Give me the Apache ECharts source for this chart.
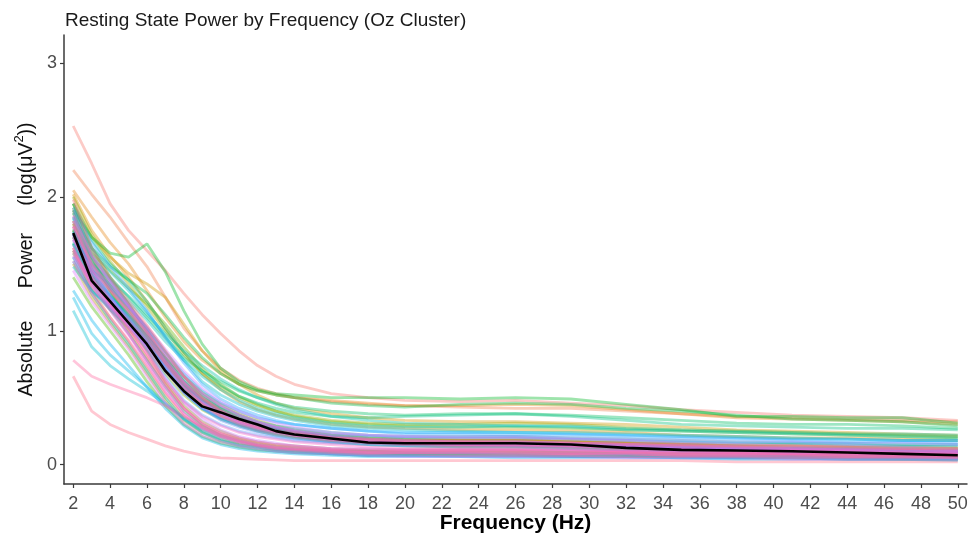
<!DOCTYPE html>
<html>
<head>
<meta charset="utf-8">
<script src="https://cdn.jsdelivr.net/npm/echarts@6/dist/echarts.min.js"></script>
<style>html,body{margin:0;padding:0;background:#fff}#c{width:971px;height:536px}</style>
</head>
<body>
<div id="c"></div>
<script>
// ---- data ----
const freqs = [2,3,4,5,6,7,8,9,10,11,12,13,14,16,18,20,23,26,29,32,35,38,41,44,47,50];
const meanPower = [1.73,1.375,1.22,1.06,0.90,0.70,0.55,0.435,0.39,0.34,0.30,0.25,0.225,0.195,0.165,0.16,0.16,0.16,0.15,0.125,0.11,0.105,0.10,0.09,0.08,0.07];
const xTicks = [2,4,6,8,10,12,14,16,18,20,22,24,26,28,30,32,34,36,38,40,42,44,46,48,50];
const yTicks = [0,1,2,3];
const subjectPower = [
  [2.53,2.25,1.95,1.75,1.60,1.45,1.28,1.12,0.98,0.85,0.74,0.66,0.60,0.53,0.50,0.48,0.47,0.48,0.46,0.44,0.41,0.39,0.37,0.36,0.35,0.33],
  [1.80,1.48,1.30,1.12,0.94,0.74,0.58,0.46,0.39,0.33,0.29,0.26,0.23,0.19,0.17,0.16,0.15,0.15,0.14,0.13,0.12,0.11,0.10,0.10,0.09,0.08],
  [2.20,2.02,1.85,1.66,1.48,1.25,1.02,0.85,0.72,0.63,0.57,0.53,0.50,0.47,0.45,0.44,0.43,0.42,0.42,0.40,0.38,0.36,0.35,0.34,0.33,0.32],
  [1.60,1.30,1.10,0.92,0.72,0.52,0.36,0.26,0.20,0.16,0.14,0.12,0.11,0.10,0.09,0.09,0.09,0.09,0.08,0.08,0.07,0.07,0.07,0.06,0.06,0.06],
  [2.05,1.85,1.66,1.50,1.30,1.10,0.92,0.78,0.68,0.60,0.55,0.52,0.50,0.48,0.46,0.44,0.44,0.45,0.44,0.41,0.38,0.35,0.34,0.33,0.32,0.30],
  [1.62,1.38,1.22,1.08,0.92,0.75,0.60,0.49,0.41,0.35,0.31,0.27,0.24,0.20,0.18,0.17,0.16,0.16,0.15,0.14,0.13,0.12,0.11,0.11,0.10,0.09],
  [2.02,1.75,1.56,1.40,1.22,1.02,0.84,0.68,0.56,0.47,0.41,0.37,0.34,0.30,0.28,0.27,0.26,0.26,0.25,0.24,0.22,0.21,0.20,0.20,0.19,0.18],
  [1.75,1.42,1.20,1.00,0.80,0.60,0.42,0.30,0.23,0.19,0.16,0.14,0.13,0.11,0.10,0.10,0.10,0.10,0.09,0.09,0.08,0.08,0.07,0.07,0.07,0.06],
  [1.95,1.70,1.55,1.43,1.35,1.25,1.05,0.85,0.70,0.60,0.52,0.46,0.42,0.38,0.35,0.33,0.32,0.32,0.31,0.30,0.28,0.26,0.25,0.24,0.23,0.22],
  [1.88,1.55,1.34,1.16,0.97,0.77,0.59,0.46,0.37,0.31,0.27,0.24,0.21,0.18,0.16,0.15,0.14,0.14,0.13,0.12,0.11,0.10,0.09,0.09,0.08,0.08],
  [1.78,1.50,1.32,1.16,0.98,0.78,0.60,0.48,0.40,0.34,0.30,0.27,0.25,0.22,0.20,0.19,0.19,0.19,0.18,0.17,0.16,0.15,0.15,0.14,0.14,0.13],
  [1.50,1.25,1.06,0.88,0.68,0.48,0.33,0.24,0.18,0.15,0.13,0.11,0.10,0.09,0.08,0.08,0.08,0.08,0.07,0.07,0.06,0.06,0.06,0.05,0.05,0.05],
  [1.92,1.58,1.38,1.20,1.00,0.78,0.58,0.45,0.37,0.32,0.28,0.25,0.23,0.20,0.19,0.18,0.18,0.18,0.17,0.16,0.15,0.14,0.14,0.13,0.13,0.12],
  [1.70,1.42,1.25,1.10,0.95,0.80,0.66,0.54,0.45,0.38,0.33,0.29,0.26,0.22,0.20,0.19,0.18,0.18,0.17,0.16,0.15,0.14,0.13,0.12,0.12,0.11],
  [2.00,1.72,1.52,1.35,1.18,1.00,0.82,0.68,0.58,0.50,0.44,0.40,0.37,0.33,0.31,0.30,0.30,0.31,0.30,0.28,0.26,0.25,0.24,0.23,0.22,0.21],
  [1.90,1.55,1.30,1.08,0.85,0.62,0.44,0.32,0.25,0.20,0.17,0.15,0.14,0.12,0.11,0.11,0.11,0.11,0.10,0.10,0.09,0.09,0.08,0.08,0.07,0.07],
  [1.58,1.32,1.16,1.02,0.86,0.68,0.52,0.41,0.34,0.29,0.25,0.22,0.20,0.17,0.15,0.14,0.13,0.13,0.12,0.11,0.10,0.09,0.09,0.08,0.08,0.07],
  [1.82,1.52,1.34,1.18,1.02,0.84,0.66,0.52,0.42,0.35,0.30,0.26,0.24,0.21,0.19,0.18,0.18,0.18,0.17,0.16,0.15,0.14,0.13,0.13,0.12,0.12],
  [1.80,1.58,1.45,1.32,1.20,1.05,0.88,0.72,0.60,0.51,0.45,0.40,0.36,0.32,0.30,0.29,0.28,0.28,0.27,0.26,0.25,0.24,0.23,0.22,0.21,0.20],
  [1.40,1.18,1.00,0.82,0.62,0.44,0.30,0.21,0.16,0.13,0.11,0.10,0.09,0.08,0.07,0.07,0.07,0.07,0.06,0.06,0.06,0.05,0.05,0.05,0.04,0.04],
  [1.95,1.62,1.40,1.20,1.00,0.80,0.62,0.49,0.40,0.34,0.29,0.26,0.23,0.19,0.17,0.16,0.15,0.15,0.14,0.13,0.12,0.11,0.10,0.10,0.09,0.09],
  [1.90,1.70,1.58,1.55,1.65,1.44,1.15,0.90,0.72,0.62,0.56,0.53,0.52,0.50,0.50,0.50,0.49,0.50,0.49,0.45,0.41,0.36,0.36,0.35,0.35,0.31],
  [1.85,1.62,1.48,1.38,1.28,1.12,0.95,0.80,0.68,0.60,0.55,0.52,0.50,0.46,0.44,0.43,0.45,0.46,0.45,0.42,0.40,0.37,0.34,0.33,0.32,0.29],
  [1.76,1.46,1.28,1.12,0.96,0.78,0.62,0.50,0.42,0.36,0.31,0.27,0.24,0.20,0.18,0.17,0.16,0.16,0.15,0.14,0.13,0.12,0.12,0.11,0.10,0.10],
  [1.75,1.55,1.40,1.25,1.10,0.95,0.80,0.70,0.62,0.55,0.50,0.46,0.43,0.40,0.38,0.37,0.38,0.38,0.37,0.35,0.33,0.31,0.30,0.30,0.29,0.27],
  [1.65,1.36,1.16,0.98,0.78,0.58,0.40,0.29,0.22,0.18,0.15,0.13,0.12,0.10,0.10,0.09,0.09,0.09,0.09,0.08,0.08,0.07,0.07,0.07,0.06,0.06],
  [1.95,1.68,1.50,1.38,1.22,1.02,0.84,0.70,0.59,0.51,0.46,0.42,0.39,0.36,0.35,0.36,0.37,0.38,0.36,0.33,0.30,0.29,0.28,0.27,0.27,0.26],
  [1.66,1.40,1.23,1.07,0.90,0.71,0.55,0.43,0.35,0.30,0.26,0.23,0.21,0.18,0.16,0.15,0.15,0.14,0.14,0.13,0.12,0.11,0.10,0.10,0.09,0.09],
  [1.65,1.40,1.26,1.12,0.96,0.80,0.64,0.52,0.43,0.37,0.32,0.29,0.27,0.24,0.22,0.21,0.21,0.21,0.20,0.19,0.18,0.17,0.16,0.16,0.15,0.15],
  [1.70,1.50,1.38,1.26,1.12,0.98,0.85,0.74,0.64,0.56,0.50,0.45,0.41,0.36,0.33,0.31,0.30,0.29,0.29,0.27,0.26,0.25,0.24,0.23,0.23,0.22],
  [1.55,1.28,1.08,0.90,0.70,0.50,0.34,0.24,0.18,0.14,0.12,0.10,0.09,0.08,0.07,0.07,0.07,0.07,0.06,0.06,0.05,0.05,0.05,0.04,0.04,0.04],
  [1.60,1.45,1.35,1.22,1.08,0.92,0.78,0.66,0.56,0.48,0.42,0.38,0.35,0.31,0.29,0.28,0.28,0.29,0.28,0.26,0.25,0.24,0.23,0.22,0.21,0.20],
  [1.84,1.52,1.32,1.14,0.95,0.76,0.60,0.48,0.40,0.34,0.30,0.27,0.24,0.21,0.19,0.18,0.17,0.17,0.16,0.15,0.14,0.13,0.12,0.12,0.11,0.10],
  [1.88,1.62,1.44,1.30,1.14,0.96,0.78,0.62,0.52,0.45,0.40,0.36,0.33,0.29,0.27,0.26,0.25,0.24,0.24,0.23,0.22,0.21,0.20,0.19,0.18,0.18],
  [1.15,0.88,0.74,0.64,0.55,0.45,0.35,0.27,0.21,0.17,0.14,0.12,0.11,0.09,0.08,0.08,0.08,0.07,0.07,0.07,0.06,0.06,0.06,0.05,0.05,0.05],
  [1.48,1.30,1.18,1.06,0.92,0.76,0.60,0.48,0.40,0.34,0.30,0.27,0.25,0.22,0.21,0.20,0.20,0.20,0.19,0.18,0.17,0.16,0.16,0.15,0.14,0.14],
  [1.25,0.98,0.82,0.70,0.58,0.46,0.34,0.25,0.19,0.15,0.13,0.11,0.10,0.08,0.07,0.07,0.06,0.06,0.06,0.06,0.05,0.05,0.05,0.04,0.04,0.04],
  [1.52,1.30,1.16,1.03,0.89,0.73,0.58,0.47,0.39,0.33,0.29,0.26,0.23,0.20,0.18,0.17,0.16,0.16,0.15,0.14,0.13,0.12,0.11,0.11,0.10,0.09],
  [1.30,1.08,0.90,0.74,0.58,0.42,0.29,0.20,0.15,0.12,0.10,0.09,0.08,0.07,0.06,0.06,0.06,0.05,0.05,0.05,0.05,0.04,0.04,0.04,0.04,0.03],
  [1.72,1.44,1.26,1.10,0.92,0.72,0.54,0.42,0.35,0.30,0.26,0.24,0.22,0.19,0.17,0.16,0.16,0.16,0.15,0.14,0.13,0.12,0.12,0.11,0.11,0.10],
  [1.72,1.48,1.32,1.18,1.02,0.84,0.68,0.55,0.46,0.40,0.35,0.32,0.30,0.27,0.25,0.24,0.24,0.24,0.23,0.22,0.21,0.20,0.19,0.19,0.18,0.18],
  [1.74,1.44,1.26,1.09,0.91,0.71,0.54,0.42,0.34,0.29,0.25,0.22,0.20,0.17,0.15,0.14,0.13,0.13,0.12,0.11,0.10,0.10,0.09,0.09,0.08,0.08],
  [1.92,1.66,1.48,1.32,1.15,0.95,0.76,0.60,0.49,0.42,0.37,0.33,0.30,0.27,0.25,0.23,0.23,0.22,0.22,0.21,0.20,0.19,0.18,0.17,0.17,0.16],
  [1.68,1.42,1.24,1.06,0.86,0.66,0.48,0.37,0.30,0.25,0.22,0.20,0.18,0.16,0.15,0.14,0.14,0.14,0.13,0.12,0.11,0.11,0.10,0.10,0.09,0.09],
  [1.85,1.55,1.36,1.18,0.98,0.76,0.56,0.42,0.33,0.28,0.24,0.21,0.19,0.17,0.16,0.15,0.15,0.15,0.14,0.13,0.12,0.12,0.11,0.11,0.10,0.10],
  [1.90,1.58,1.38,1.20,1.02,0.83,0.66,0.53,0.44,0.37,0.32,0.28,0.25,0.21,0.19,0.18,0.17,0.17,0.16,0.15,0.14,0.13,0.12,0.11,0.11,0.10],
  [1.55,1.36,1.22,1.08,0.92,0.74,0.58,0.46,0.38,0.32,0.28,0.25,0.23,0.20,0.18,0.17,0.17,0.17,0.16,0.15,0.14,0.13,0.13,0.12,0.12,0.11],
  [1.58,1.38,1.24,1.10,0.95,0.78,0.62,0.50,0.41,0.35,0.31,0.28,0.26,0.23,0.22,0.21,0.21,0.21,0.20,0.19,0.18,0.17,0.17,0.16,0.16,0.15],
  [1.64,1.36,1.20,1.05,0.89,0.72,0.57,0.46,0.38,0.32,0.28,0.25,0.22,0.19,0.17,0.16,0.15,0.15,0.14,0.13,0.12,0.11,0.11,0.10,0.09,0.09],
  [1.82,1.48,1.26,1.06,0.86,0.64,0.46,0.34,0.26,0.21,0.18,0.16,0.14,0.12,0.12,0.11,0.11,0.11,0.11,0.10,0.10,0.09,0.09,0.08,0.08,0.08],
  [1.78,1.50,1.33,1.18,1.03,0.86,0.70,0.57,0.47,0.40,0.35,0.31,0.28,0.24,0.22,0.21,0.20,0.20,0.19,0.18,0.16,0.15,0.14,0.14,0.13,0.12],
  [1.45,1.22,1.04,0.86,0.66,0.46,0.31,0.22,0.17,0.14,0.12,0.10,0.09,0.08,0.07,0.06,0.06,0.06,0.06,0.05,0.05,0.05,0.04,0.04,0.04,0.04],
  [1.56,1.33,1.18,1.04,0.88,0.70,0.54,0.43,0.36,0.31,0.27,0.24,0.22,0.19,0.17,0.16,0.15,0.14,0.14,0.13,0.12,0.11,0.10,0.10,0.09,0.08],
  [1.70,1.40,1.18,0.98,0.76,0.55,0.38,0.27,0.21,0.17,0.14,0.12,0.11,0.10,0.09,0.09,0.09,0.08,0.08,0.08,0.07,0.07,0.06,0.06,0.06,0.05],
  [1.86,1.56,1.37,1.19,1.00,0.79,0.61,0.47,0.38,0.32,0.28,0.25,0.22,0.19,0.17,0.16,0.15,0.15,0.14,0.13,0.12,0.11,0.10,0.10,0.09,0.08],
  [1.62,1.34,1.15,0.97,0.78,0.58,0.42,0.31,0.24,0.20,0.17,0.15,0.14,0.12,0.11,0.11,0.11,0.11,0.10,0.10,0.09,0.09,0.08,0.08,0.08,0.07],
  [1.68,1.45,1.30,1.15,0.99,0.82,0.66,0.53,0.44,0.37,0.32,0.28,0.25,0.21,0.19,0.18,0.17,0.17,0.16,0.15,0.14,0.13,0.12,0.12,0.11,0.10],
  [1.78,1.45,1.22,1.02,0.82,0.60,0.42,0.30,0.23,0.18,0.15,0.13,0.12,0.10,0.09,0.09,0.09,0.09,0.08,0.08,0.07,0.07,0.07,0.06,0.06,0.06],
  [1.72,1.40,1.20,1.02,0.83,0.63,0.47,0.36,0.29,0.24,0.21,0.19,0.17,0.15,0.13,0.12,0.12,0.12,0.11,0.10,0.09,0.09,0.08,0.08,0.07,0.07],
  [1.52,1.28,1.10,0.93,0.74,0.54,0.38,0.28,0.22,0.18,0.15,0.13,0.12,0.11,0.10,0.10,0.10,0.10,0.09,0.09,0.08,0.08,0.08,0.07,0.07,0.07],
  [1.60,1.36,1.21,1.07,0.92,0.76,0.61,0.49,0.40,0.34,0.30,0.26,0.24,0.20,0.18,0.17,0.17,0.16,0.16,0.15,0.14,0.13,0.12,0.11,0.11,0.10],
  [0.78,0.66,0.60,0.55,0.50,0.44,0.36,0.28,0.21,0.17,0.14,0.12,0.11,0.09,0.08,0.08,0.07,0.07,0.07,0.06,0.06,0.06,0.05,0.05,0.05,0.05],
  [1.82,1.50,1.31,1.14,0.96,0.76,0.58,0.45,0.36,0.30,0.26,0.23,0.21,0.18,0.16,0.15,0.14,0.14,0.13,0.12,0.11,0.10,0.10,0.09,0.09,0.08],
  [0.66,0.40,0.30,0.24,0.19,0.14,0.10,0.07,0.05,0.045,0.04,0.035,0.03,0.03,0.03,0.03,0.03,0.03,0.03,0.03,0.03,0.02,0.02,0.02,0.02,0.02],
  [1.98,1.62,1.40,1.22,1.04,0.85,0.66,0.50,0.40,0.33,0.28,0.25,0.23,0.20,0.19,0.18,0.18,0.18,0.17,0.16,0.15,0.14,0.14,0.13,0.12,0.12]
];

// ---- ggplot-like hue palette (HCL, c=100, l=65) ----
function hcl2hex(h, c, l) {
  const hr = h * Math.PI / 180;
  const u = c * Math.cos(hr), v = c * Math.sin(hr);
  const Xn = 95.047, Yn = 100, Zn = 108.883;
  const un = 4 * Xn / (Xn + 15 * Yn + 3 * Zn), vn = 9 * Yn / (Xn + 15 * Yn + 3 * Zn);
  const Y = l > 8 ? Yn * Math.pow((l + 16) / 116, 3) : Yn * l / 903.3;
  const up = u / (13 * l) + un, vp = v / (13 * l) + vn;
  const X = Y * 9 * up / (4 * vp), Z = Y * (12 - 3 * up - 20 * vp) / (4 * vp);
  const x = X / 100, y = Y / 100, z = Z / 100;
  let r = 3.2406 * x - 1.5372 * y - 0.4986 * z;
  let g = -0.9689 * x + 1.8758 * y + 0.0415 * z;
  let b = 0.0557 * x - 0.2040 * y + 1.0570 * z;
  const gam = t => { t = t <= 0.0031308 ? 12.92 * t : 1.055 * Math.pow(t, 1 / 2.4) - 0.055; return Math.round(Math.max(0, Math.min(1, t)) * 255); };
  return 'rgb(' + gam(r) + ',' + gam(g) + ',' + gam(b) + ')';
}

const n = subjectPower.length;
const series = subjectPower.map((vals, i) => ({
  type: 'line',
  data: vals.map((v, j) => [freqs[j], v]),
  showSymbol: false,
  symbol: 'none',
  silent: true,
  lineStyle: { color: hcl2hex(15 + 360 * i / n, 100, 65), width: 2.8, opacity: 0.38 },
  z: 2
}));
series.push({
  type: 'line',
  data: meanPower.map((v, j) => [freqs[j], v]),
  symbol: 'none',
  silent: true,
  lineStyle: { color: '#000', width: 2.6 },
  z: 5
});

const FONT = 'Liberation Sans, Arial, sans-serif';
const chart = echarts.init(document.getElementById('c'), null, { renderer: 'canvas' });
const axisCol = '#3a3a3a';
chart.setOption({
  animation: false,
  backgroundColor: '#fff',
  title: {
    text: 'Resting State Power by Frequency (Oz Cluster)',
    left: 60, top: 6,
    textStyle: { fontFamily: FONT, fontSize: 19, fontWeight: 'normal', color: '#1a1a1a' }
  },
  grid: { left: 64, right: 4, top: 35, bottom: 52, containLabel: false, outerBoundsMode: 'none' },
  xAxis: {
    type: 'value', min: 1.5, max: 50.5,
    name: 'Frequency (Hz)', nameLocation: 'middle', nameGap: 29, nameMoveOverlap: false,
    nameTextStyle: { fontFamily: FONT, fontSize: 21, fontWeight: 'bold', color: '#000' },
    axisLine: { onZero: false, lineStyle: { color: axisCol, width: 1.5 } },
    axisTick: { customValues: xTicks, length: 4, lineStyle: { color: axisCol, width: 1.2 } },
    axisLabel: { customValues: xTicks, margin: 11, fontFamily: FONT, fontSize: 18, color: '#4d4d4d' },
    splitLine: { show: false }
  },
  yAxis: {
    type: 'value', min: -0.145, max: 3.21,
    name: '{t|Absolute      Power     (log(μV}{s|2}{t|))}', nameLocation: 'middle', nameGap: 27, nameRotate: 90, nameMoveOverlap: false,
    nameTextStyle: {
      rich: {
        t: { fontFamily: FONT, fontSize: 19.5, color: '#111', lineHeight: 24, verticalAlign: 'bottom' },
        s: { fontFamily: FONT, fontSize: 13, color: '#111', lineHeight: 24, verticalAlign: 'top' }
      }
    },
    axisLine: { show: true, onZero: false, lineStyle: { color: axisCol, width: 1.5 } },
    axisTick: { show: true, customValues: yTicks, length: 4, lineStyle: { color: axisCol, width: 1.2 } },
    axisLabel: { customValues: yTicks, margin: 7, padding: [3, 0, 0, 0], fontFamily: FONT, fontSize: 18, color: '#4d4d4d' },
    splitLine: { show: false }
  },
  series: series
});
</script>
</body>
</html>
